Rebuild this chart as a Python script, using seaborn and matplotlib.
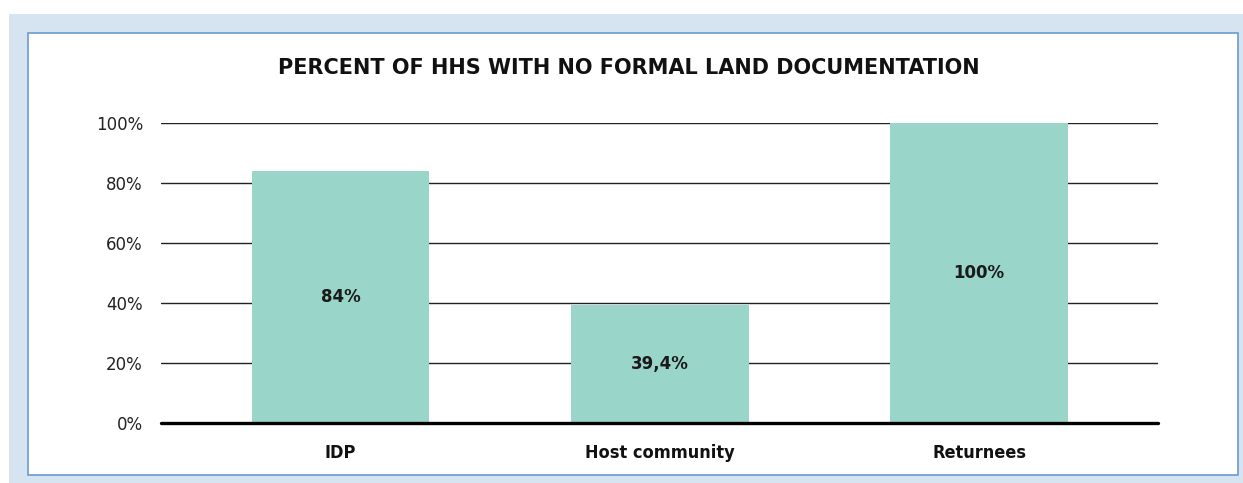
import matplotlib
matplotlib.use("Agg")
import matplotlib.pyplot as plt
import seaborn as sns
import pandas as pd
from matplotlib.patches import Rectangle

categories = ["IDP", "Host community", "Returnees"]
values = [84, 39.4, 100]
value_labels = ["84%", "39,4%", "100%"]
yticks = [0, 20, 40, 60, 80, 100]
ytick_labels = ["0%", "20%", "40%", "60%", "80%", "100%"]
title = "PERCENT OF HHS WITH NO FORMAL LAND DOCUMENTATION"

sns.set_theme(style="white")
plt.rcParams['font.family'] = ['DejaVu Sans']

W, H = 1243, 483
fig = plt.figure(figsize=(W / 100, H / 100), dpi=100)
fig.patch.set_facecolor("white")

# background panels
fig.patches.append(Rectangle((9 / W, 0), 1 - 9 / W, 1 - 14 / H, transform=fig.transFigure,
                             facecolor="#D6E3F0", edgecolor="none", zorder=-10))
fig.patches.append(Rectangle((28 / W, 1 - 475 / H), (1238 - 28) / W, (475 - 33) / H,
                             transform=fig.transFigure, facecolor="white",
                             edgecolor="#6A9BD0", linewidth=1.2, zorder=-9))

ax = fig.add_axes([161 / W, 1 - 423 / H, (1158 - 161) / W, (423 - 123) / H])
ax.set_facecolor("none")

df = pd.DataFrame({"cat": categories, "val": values})
sns.barplot(data=df, x="cat", y="val", color="#9AD5C9", saturation=1, width=0.557,
            linewidth=0, edgecolor="none", ax=ax, zorder=3)

ax.set_xlim(-0.562, 2.56)
ax.set_ylim(0, 100)
ax.set_yticks(yticks)
ax.set_yticklabels(ytick_labels, fontsize=12, color="#222222")
for y in yticks[1:]:
    ax.axhline(y, color="#222222", linewidth=1.0, zorder=1)
ax.axhline(0, color="black", linewidth=2.4, zorder=4, clip_on=False)

for s in ax.spines.values():
    s.set_visible(False)
ax.tick_params(axis="y", length=0, pad=13)
ax.tick_params(axis="x", length=0, pad=15)
ax.set_xticklabels(categories, fontsize=13, fontweight="bold", color="#111111",
                   fontstretch="condensed")
ax.set_xlabel("")
ax.set_ylabel("")

ax.bar_label(ax.containers[0], labels=value_labels, label_type="center",
             fontsize=12, fontweight="bold", color="#1a1a1a")

fig.text(629 / W, 1 - 68 / H, title, ha="center", va="center", fontsize=15,
         fontweight="bold", color="#111111")

fig.savefig("out.png", dpi=100)
